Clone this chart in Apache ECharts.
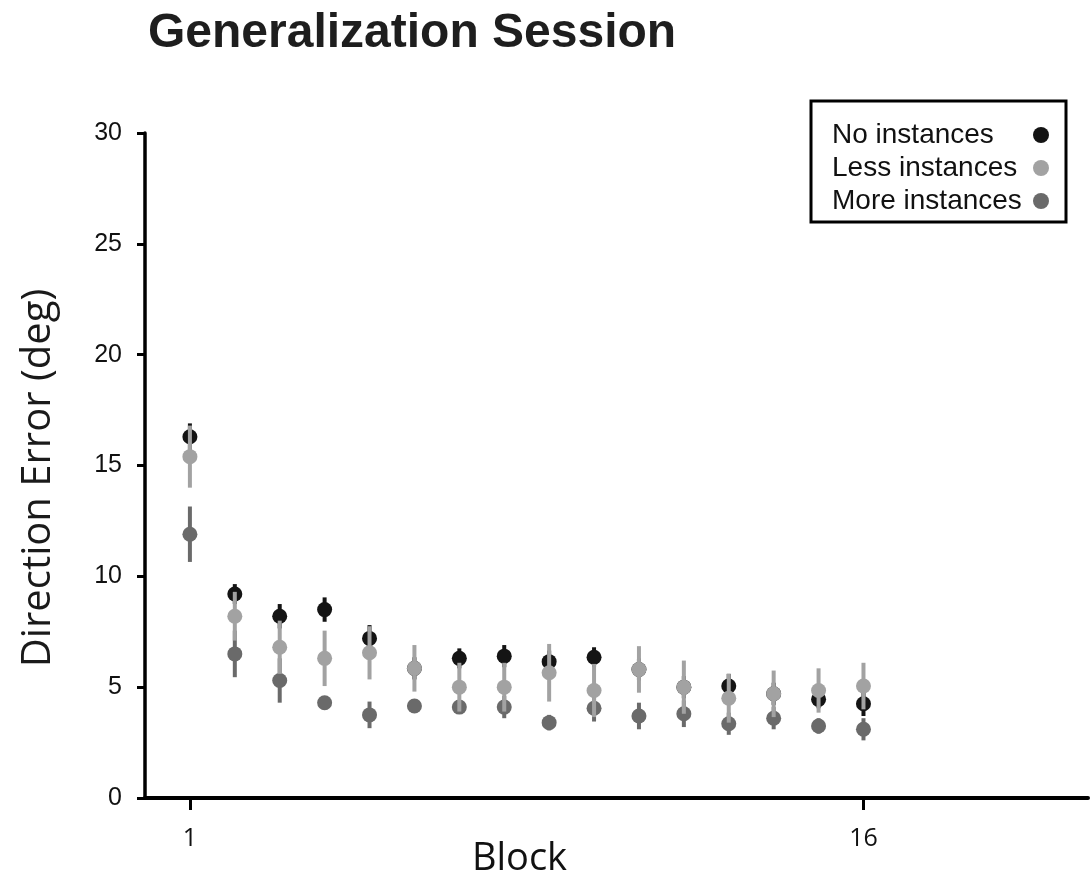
<!DOCTYPE html>
<html>
<head>
<meta charset="utf-8">
<script src="https://cdn.jsdelivr.net/npm/echarts@6/dist/echarts.min.js"></script>
<style>
  html, body { margin: 0; padding: 0; background: #ffffff; }
  #chart { width: 1092px; height: 883px; }
</style>
</head>
<body>
<div id="chart"></div>
<script>
// Block numbers of the generalization session
const blocks = [1, 2, 3, 4, 5, 6, 7, 8, 9, 10, 11, 12, 13, 14, 15, 16];

// Mean direction error (deg) and its error (half bar length) per group
const noMean   = [16.3, 9.2, 8.2, 8.5, 7.2, 5.85, 6.3, 6.4, 6.15, 6.35, 5.8, 5.0, 5.05, 4.7, 4.45, 4.25];
const noErr    = [0.6, 0.45, 0.55, 0.55, 0.6, 0.5, 0.45, 0.5, 0.5, 0.45, 0.5, 0.5, 0.55, 0.5, 0.4, 0.55];

const lessMean = [15.4, 8.2, 6.8, 6.3, 6.55, 5.85, 5.0, 5.0, 5.65, 4.85, 5.8, 5.0, 4.5, 4.7, 4.85, 5.05];
const lessErr  = [1.4, 1.1, 1.2, 1.25, 1.2, 1.05, 1.1, 1.1, 1.3, 1.2, 1.05, 1.2, 1.1, 1.05, 1.0, 1.05];

const moreMean = [11.9, 6.5, 5.3, 4.3, 3.75, 4.15, 4.1, 4.1, 3.4, 4.05, 3.7, 3.8, 3.35, 3.6, 3.25, 3.1];
const moreErr  = [1.25, 1.05, 1.0, 0.3, 0.6, 0.2, 0.3, 0.5, 0.35, 0.6, 0.6, 0.6, 0.5, 0.5, 0.35, 0.5];

// Axis ticks
const xTickValues = [1, 16];
const yTicks = { min: 0, max: 30, interval: 5 };

const groups = [
  { name: 'No instances',   mean: noMean,   err: noErr,   color: '#141414' },
  { name: 'Less instances', mean: lessMean, err: lessErr, color: '#a2a2a2' },
  { name: 'More instances', mean: moreMean, err: moreErr, color: '#6a6a6a' }
];

function rows(g) {
  return blocks.map((b, i) => [b, g.mean[i], g.mean[i] - g.err[i], g.mean[i] + g.err[i]]);
}

// Vertical error bar with a filled dot at the mean
function renderPoint(color) {
  return function (params, api) {
    const c = api.coord([api.value(0), api.value(1)]);
    const lo = api.coord([api.value(0), api.value(2)]);
    const hi = api.coord([api.value(0), api.value(3)]);
    return {
      type: 'group',
      children: [
        { type: 'line', shape: { x1: c[0], y1: lo[1], x2: c[0], y2: hi[1] },
          style: { stroke: color, lineWidth: 4 } },
        { type: 'circle', shape: { cx: c[0], cy: c[1], r: 7.5 },
          style: { fill: color } }
      ]
    };
  };
}

// Drawing order: No, More, then Less on top
const drawOrder = [groups[0], groups[2], groups[1]];

const series = drawOrder.map(g => ({
  name: g.name,
  type: 'custom',
  renderItem: renderPoint(g.color),
  itemStyle: { color: g.color },
  encode: { x: 0, y: [1, 2, 3] },
  data: rows(g),
  silent: true
}));

const sansAxis = 'Liberation Sans, Arial, sans-serif';
const humanist = 'Open Sans, sans-serif';

const option = {
  animation: false,
  backgroundColor: '#ffffff',
  title: {
    text: 'Generalization Session',
    left: 143,
    top: 5,
    textStyle: { fontFamily: sansAxis, fontSize: 48, fontWeight: 'bold', color: '#1e1e1e' }
  },
  legend: {
    orient: 'vertical',
    left: 811,
    top: 101,
    align: 'right',
    icon: 'circle',
    itemWidth: 16,
    itemHeight: 16,
    itemGap: 5,
    padding: [20, 17, 7, 21],
    borderColor: '#000000',
    borderWidth: 3,
    backgroundColor: '#ffffff',
    data: groups.map(g => ({ name: g.name, icon: 'circle' })),
    // fixed-width, left-aligned label so the dots line up on the right
    formatter: name => '{t|' + name + '}',
    textStyle: {
      fontFamily: sansAxis, fontSize: 27, color: '#111111', lineHeight: 26,
      rich: { t: { width: 196, align: 'left', fontFamily: sansAxis, fontSize: 28, color: '#111111', lineHeight: 26 } }
    }
  },
  grid: { left: 145, right: 4, top: 133, bottom: 85, outerBoundsMode: 'none' },
  xAxis: {
    type: 'value',
    min: 0,
    max: 21,
    name: 'Block',
    nameLocation: 'middle',
    nameGap: 42,
    nameMoveOverlap: false,
    nameTextStyle: { fontFamily: humanist, fontSize: 38, color: '#111111', padding: [0, 194, 0, 0] },
    splitLine: { show: false },
    axisLine: { lineStyle: { color: '#000000', width: 4 } },
    axisTick: { customValues: xTickValues, length: 12, lineStyle: { color: '#000000', width: 3 } },
    axisLabel: { customValues: xTickValues, fontFamily: humanist, fontSize: 25, color: '#111111', margin: 28 }
  },
  yAxis: {
    type: 'value',
    min: yTicks.min,
    max: yTicks.max,
    interval: yTicks.interval,
    name: 'Direction Error (deg)',
    nameLocation: 'middle',
    nameGap: 86,
    nameMoveOverlap: false,
    nameTextStyle: { fontFamily: humanist, fontSize: 40, color: '#1a1a1a', padding: [0, 25, 0, 0] },
    splitLine: { show: false },
    axisLine: { show: true, lineStyle: { color: '#000000', width: 3.5 } },
    axisTick: { show: true, length: 8, lineStyle: { color: '#000000', width: 3 } },
    axisLabel: { fontFamily: sansAxis, fontSize: 25, color: '#111111', margin: 23 }
  },
  series: series
};

const chart = echarts.init(document.getElementById('chart'), null, { renderer: 'canvas' });
chart.setOption(option);
</script>
</body>
</html>
